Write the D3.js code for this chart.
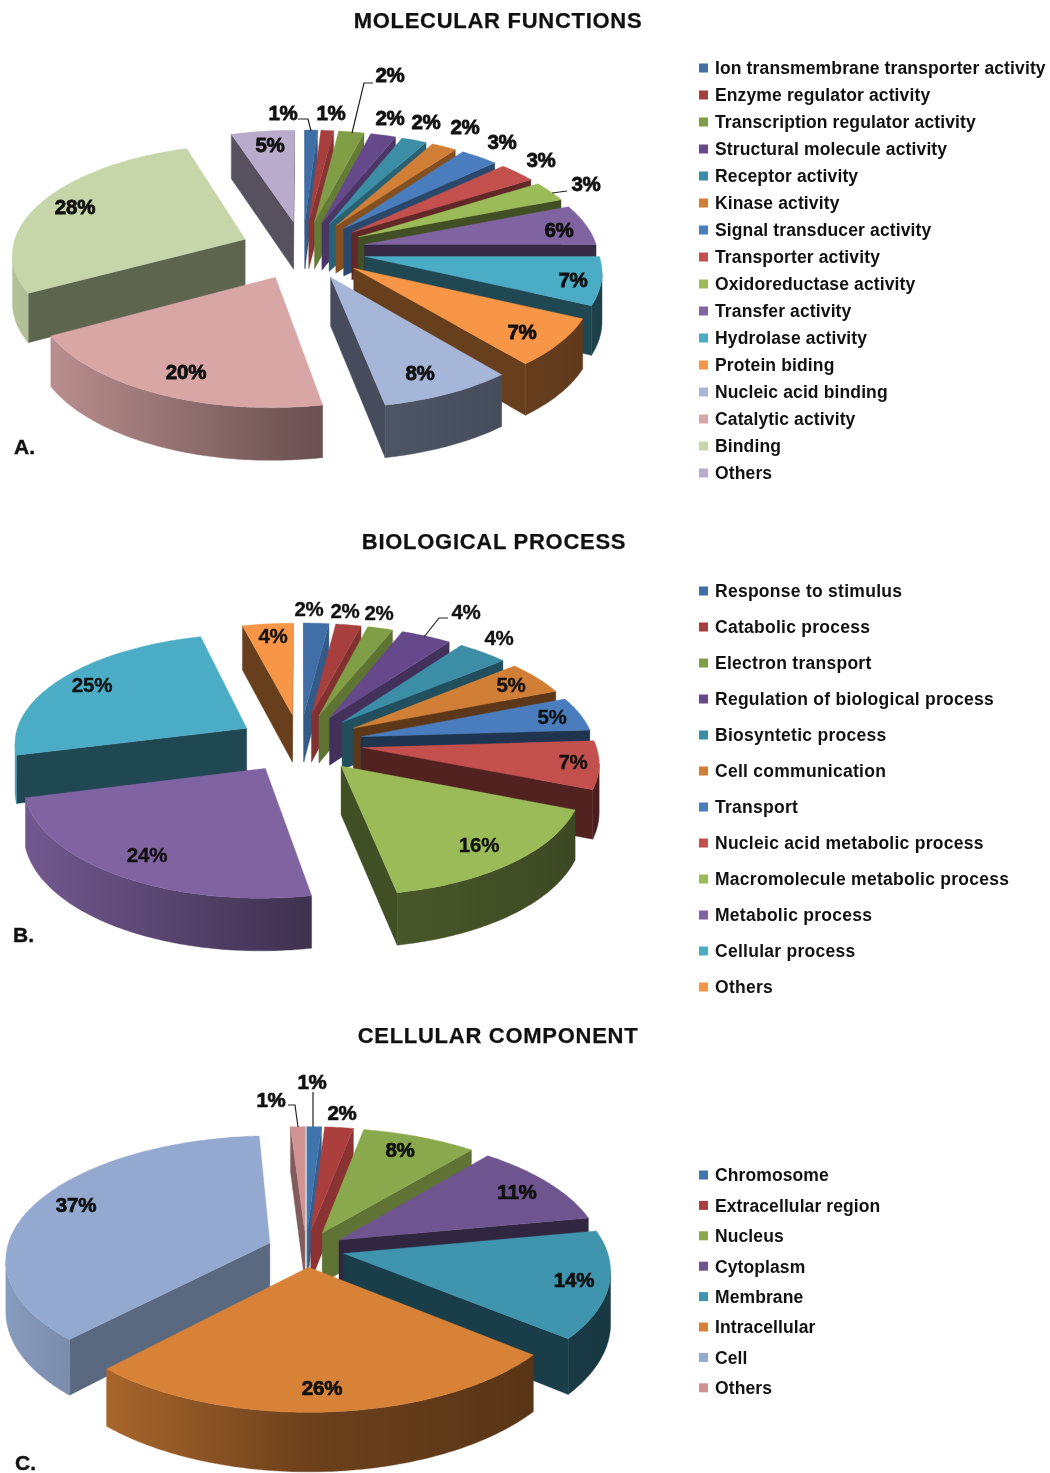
<!DOCTYPE html>
<html><head><meta charset="utf-8">
<script src="https://cdn.jsdelivr.net/npm/d3@7"></script>
<style>
html,body{margin:0;padding:0;background:#fff}
svg{display:block;filter:blur(.45px)}
text{font-family:"Liberation Sans",Arial,sans-serif;fill:#111}
.title{font-weight:700;font-size:22px;letter-spacing:.72px;text-anchor:middle;stroke:#111;stroke-width:.25px}
.panel{font-weight:700;font-size:21px;stroke:#111;stroke-width:.4px}
.legend{font-weight:700;font-size:17.5px}
.pct{font-weight:700;font-size:20.5px;text-anchor:middle;stroke:#111;letter-spacing:-.2px}
</style></head><body>
<svg id="chart" width="1050" height="1473"></svg>
<script>
// ---- data ----
const categoriesA = ["Ion transmembrane transporter activity","Enzyme regulator activity","Transcription regulator activity","Structural molecule activity","Receptor activity","Kinase activity","Signal transducer activity","Transporter activity","Oxidoreductase activity","Transfer activity","Hydrolase activity","Protein biding","Nucleic acid binding","Catalytic activity","Binding","Others"];
const valuesA = [1,1,2,2,2,2,3,3,3,6,7,7,8,20,28,5];
const categoriesB = ["Response to stimulus","Catabolic process","Electron transport","Regulation of biological process","Biosyntetic process","Cell communication","Transport","Nucleic acid metabolic process","Macromolecule metabolic process","Metabolic process","Cellular process","Others"];
const valuesB = [2,2,2,4,4,5,5,7,16,24,25,4];
const categoriesC = ["Chromosome","Extracellular region","Nucleus","Cytoplasm","Membrane","Intracellular","Cell","Others"];
const valuesC = [1,2,8,11,14,26,37,1];

// ---- colours ----
const coloursA = ["#3f6fa6","#a63f3e","#7f9e45","#66498a","#3c8ea6","#d17e36","#4a7dbd","#c4504e","#9bbb59","#8064a2","#4bacc6","#f79646","#a6b6d8","#d9a6a6","#c6d6a9","#b8abcb"];
const coloursB = ["#3f6fa6","#a63f3e","#7f9e45","#66498a","#3c8ea6","#d17e36","#4a7dbd","#c4504e","#9bbb59","#8064a2","#4bacc6","#f79646"];
const coloursC = ["#3f74ad","#ab3f3e","#8aa84c","#6f5590","#3f94ae","#d88238","#93a9cf","#d19392"];

// ---- annotation layout (kept apart from the data) ----
const labelPosA = [[283,113],[331,113],[390,75],[390,118],[426,122],[465,127],[502,142],[541,160],[586,184],[559,230],[573,280],[522,332],[420,373],[186,372],[75,207],[270,145]];
const labelPosB = [[309,609],[345,611],[379,613],[466,612],[499,638],[511,685],[552,717],[573,762],[479,845],[147,855],[92,685],[273,636]];
const labelPosC = [[312,1082],[342,1113],[400,1150],[517,1192],[574,1280],[322,1388],[76,1205],[271,1100]];
const leadersA = [[[298,119],[308,119],[311,131]],[[373,83],[364,83],[352,133]],[[567,191],[552,193]]];
const leadersB = [[[448,618],[439,618],[424,637]]];
const leadersC = [[[313,1092],[313,1127]],[[288,1105],[295,1105],[298,1127]]];

const charts = [
 {id:"A",title:"MOLECULAR FUNCTIONS",titleX:498,titleY:20,panelX:14,panelY:446,cats:categoriesA,vals:valuesA,cols:coloursA,labels:labelPosA,leaders:leadersA,
  view:{cx:303,cy:250,a:233,b:108.4,k:.116,e:.27,d:48,dp:.6},cutLeft:.47,pctStroke:.8,legendX:699,legendY:68,legendStep:27,legendSpacing:.13},
 {id:"B",title:"BIOLOGICAL PROCESS",titleX:494,titleY:541,panelX:13,panelY:934,cats:categoriesB,vals:valuesB,cols:coloursB,labels:labelPosB,leaders:leadersB,
  view:{cx:300,cy:743,a:233,b:108.4,k:.116,e:.27,d:48,dp:.6},cutLeft:.42,pctStroke:.35,legendX:699,legendY:591,legendStep:36,legendSpacing:.27},
 {id:"C",title:"CELLULAR COMPONENT",titleX:498,titleY:1035,panelX:15,panelY:1462,cats:categoriesC,vals:valuesC,cols:coloursC,labels:labelPosC,leaders:leadersC,
  view:{cx:306,cy:1249,a:263,b:122,k:.125,e:.147,d:51,dp:1},cutLeft:.62,pctStroke:.7,legendX:699,legendY:1175,legendStep:30.4,legendSpacing:.1}
];

const svg = d3.select("#chart");
const defs = svg.append("defs");
const poly = d3.line();
const shade = (c,m)=>d3.interpolateRgb("#000",c)(m);
// cut faces near the back of the pie catch more light than those turned to the right
const cutRight = d3.scaleLinear().domain([.1,1.1]).range([.82,.42]).clamp(true);

charts.forEach(ch=>{
  const v = ch.view, g = svg.append("g");
  const pie = d3.pie().sort(null).value(d=>d.value).startAngle(0).endAngle(2*Math.PI);
  const arcs = pie(ch.vals.map((value,i)=>({value,i,col:ch.cols[i]})));
  const proj=(X,Y)=>{const w=1+v.k*Y;return {x:v.cx+v.a*X/w,y:v.cy-v.b*Y/w,w};};
  const top=p=>[p.x,p.y], bot=p=>[p.x,p.y+v.d/Math.pow(p.w,v.dp)];
  arcs.forEach(s=>{s.mid=(s.startAngle+s.endAngle)/2;});
  arcs.slice().sort((a,b)=>Math.cos(b.mid)-Math.cos(a.mid)).forEach(s=>{
    const ox=v.e*Math.sin(s.mid), oy=v.e*Math.cos(s.mid);
    const n=Math.max(4,Math.ceil((s.endAngle-s.startAngle)/0.015));
    const rim=d3.range(n+1).map(i=>{
      const t=s.startAngle+(s.endAngle-s.startAngle)*i/n;
      return proj(ox+Math.sin(t),oy+Math.cos(t));
    });
    const apex=proj(ox,oy), col=s.data.col;
    const gid=`g${ch.id}${s.data.i}`;
    const gr=defs.append("linearGradient").attr("id",gid).attr("gradientUnits","userSpaceOnUse")
      .attr("x1",v.cx-300).attr("x2",v.cx+300).attr("y1",0).attr("y2",0);
    [[0,.92],[.5,.5],[1,.38]].forEach(([o,m])=>gr.append("stop").attr("offset",o).attr("stop-color",shade(col,m)));
    const cutCol=shade(col,Math.sin(s.mid)<0?ch.cutLeft:cutRight(s.mid));
    const wall=(P,Q,fill)=>g.append("path").attr("d",poly([top(P),top(Q),bot(Q),bot(P)])+"Z").attr("fill",fill).attr("stroke",fill).attr("stroke-width",.4);
    const first=rim[0], last=rim[n];
    if(first.x<apex.x) wall(apex,first,cutCol);
    if(apex.x<last.x) wall(last,apex,cutCol);
    // outer wall: runs of rim segments that head left on screen face the viewer
    let run=[];
    const flush=()=>{ if(run.length>1){
        g.append("path").attr("d",poly(run.map(top).concat(run.slice().reverse().map(bot)))+"Z")
         .attr("fill",`url(#${gid})`).attr("stroke",`url(#${gid})`).attr("stroke-width",.4);}
      run=[]; };
    for(let i=0;i<n;i++){
      if(rim[i+1].x<rim[i].x){ if(!run.length) run.push(rim[i]); run.push(rim[i+1]); }
      else flush();
    }
    flush();
    g.append("path").attr("d",poly([top(apex),...rim.map(top)])+"Z").attr("fill",col).attr("stroke",col).attr("stroke-width",.4);
  });

  ch.leaders.forEach(l=>g.append("path").attr("d",poly(l)).attr("fill","none").attr("stroke","#222").attr("stroke-width",1.2));
  g.selectAll("text.pct").data(ch.vals).join("text").attr("class","pct").attr("stroke-width",ch.pctStroke)
    .attr("x",(d,i)=>ch.labels[i][0]).attr("y",(d,i)=>ch.labels[i][1]).attr("dy",".36em").text(d=>d+"%");

  svg.append("text").attr("class","title").attr("x",ch.titleX).attr("y",ch.titleY).attr("dy",".36em").text(ch.title);
  svg.append("text").attr("class","panel").attr("x",ch.panelX).attr("y",ch.panelY).attr("dy",".36em").text(ch.id+".");

  const ly=d3.scaleLinear().domain([0,1]).range([ch.legendY,ch.legendY+ch.legendStep]);
  const lg=svg.append("g").selectAll("g").data(ch.cats).join("g").attr("transform",(d,i)=>`translate(${ch.legendX},${ly(i)})`);
  lg.append("rect").attr("x",0).attr("y",-4.5).attr("width",9).attr("height",9).attr("fill",(d,i)=>ch.cols[i]);
  lg.append("text").attr("class","legend").attr("x",16).attr("dy",".36em").attr("letter-spacing",ch.legendSpacing).text(d=>d);
});
</script></body></html>
